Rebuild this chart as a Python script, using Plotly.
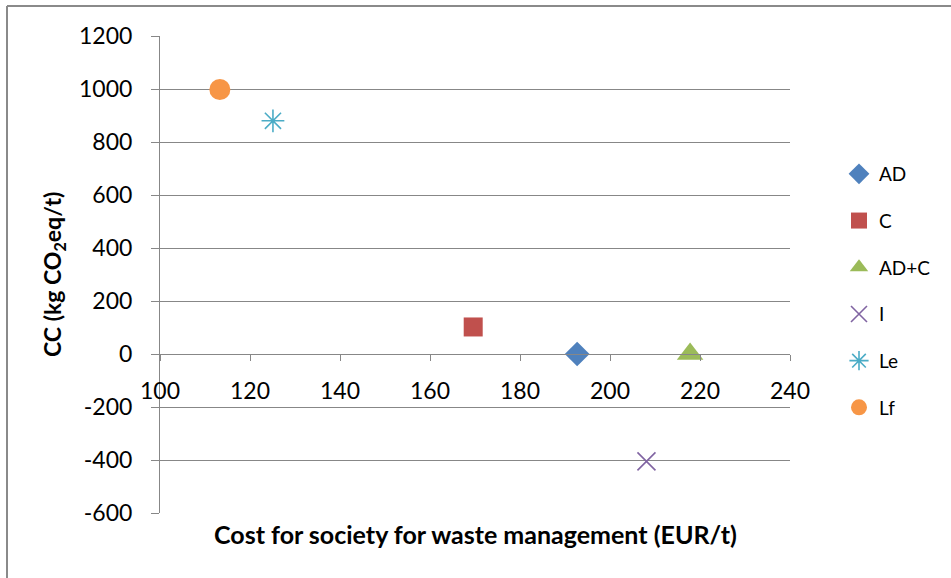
import plotly.graph_objects as go

# Data
names = ["AD", "C", "AD+C", "I", "Le", "Lf"]
cost = [192.7, 169.6, 217.8, 208.1, 125.1, 113.3]
cc = [0, 102, 0, -405, 880, 998]

x_ticks = [100, 120, 140, 160, 180, 200, 220, 240]
y_ticks = [-600, -400, -200, 0, 200, 400, 600, 800, 1000, 1200]
y_tick_labels = ["-600", "-400", "-200", "0", "200", "400", "600", "800", "1000", "1200"]

colors = ["#4F81BD", "#C0504D", "#9BBB59", "#8064A2", "#4BACC6", "#F79646"]
symbols = ["diamond", "square", "triangle-up", "x-thin-open", "asterisk-open", "circle"]
sizes = [19, 19, 23, 18, 19, 21]

W, H = 951, 578
L, R, T, B = 160, 790, 36, 513
pw, ph = R - L, B - T

def px(x):
    return (x - L) / pw

def py(y):
    return (B - y) / ph

FONT = "Lato"
GRID = "#878787"

fig = go.Figure()
for i, n in enumerate(names):
    open_sym = symbols[i].endswith("-open")
    fig.add_trace(go.Scatter(
        x=[cost[i]], y=[cc[i]], mode="markers", name=n, legendgroup=n,
        marker=dict(symbol=symbols[i], size=sizes[i], color=colors[i],
                    line=dict(width=1.6 if open_sym else 0, color=colors[i])),
    ))

fig.update_layout(
    width=W, height=H,
    margin=dict(l=L, r=W - R, t=T, b=H - B),
    paper_bgcolor="white", plot_bgcolor="white",
    font=dict(family=FONT, color="#000000"),
    showlegend=True,
    legend=dict(x=px(839), y=py(155), xanchor="left", yanchor="top",
                font=dict(size=19, family=FONT), tracegroupgap=19,
                itemsizing="trace", bgcolor="rgba(0,0,0,0)"),
    xaxis=dict(range=[100, 240], tickvals=x_ticks, showgrid=False,
               zeroline=False, showline=True, linecolor=GRID, linewidth=1,
               ticks="outside", ticklen=6, tickcolor=GRID, tickwidth=1,
               anchor="free", position=1/3, ticklabelstandoff=10,
               automargin=False, tickfont=dict(size=23, family=FONT)),
    yaxis=dict(range=[-600, 1200], tickvals=y_ticks, ticktext=y_tick_labels,
               showgrid=True, gridcolor=GRID, gridwidth=1, zeroline=False,
               showline=True, linecolor=GRID, linewidth=1, ticks="outside",
               ticklen=8, tickcolor=GRID, tickwidth=1, ticklabelstandoff=14,
               automargin=False, tickfont=dict(size=23, family=FONT)),
    annotations=[
        dict(text="<b>Cost for society for waste management (EUR/t)</b>",
             x=0.5, y=py(534), xref="paper", yref="paper", showarrow=False,
             xanchor="center", yanchor="middle", font=dict(size=25, family=FONT)),
        dict(text="<b>CC (kg CO<sub>2</sub>eq/t)</b>", textangle=-90,
             x=px(53), y=py(275), xref="paper", yref="paper", showarrow=False,
             xanchor="center", yanchor="middle", font=dict(size=23, family=FONT)),
    ],
    shapes=[
        dict(type="line", xref="paper", yref="paper", x0=px(7), y0=py(6),
             x1=px(7), y1=py(590), line=dict(color="#8a8a8a", width=2)),
        dict(type="line", xref="paper", yref="paper", x0=px(7), y0=py(6),
             x1=px(960), y1=py(6), line=dict(color="#8a8a8a", width=2)),
    ],
)

fig.write_html("out.html", config={"displayModeBar": False},
               post_script="document.body.style.margin='0';document.body.style.overflow='hidden';")
